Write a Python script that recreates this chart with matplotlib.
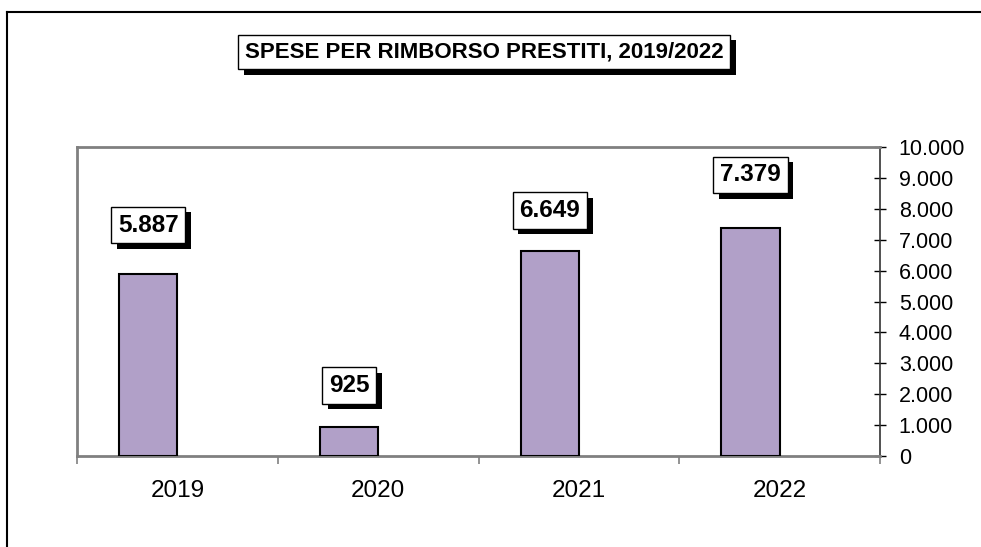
import matplotlib
matplotlib.use("Agg")
import matplotlib.pyplot as plt
import matplotlib.patheffects as pe
from matplotlib.lines import Line2D
from matplotlib.ticker import FuncFormatter

plt.rcParams["font.family"] = ["Liberation Sans", "DejaVu Sans"]

years = ["2019", "2020", "2021", "2022"]
spese = [5887, 925, 6649, 7379]
value_labels = ["5.887", "925", "6.649", "7.379"]
y_ticks = list(range(0, 10001, 1000))
title = "SPESE PER RIMBORSO PRESTITI, 2019/2022"

# label offsets above the bar top, in pixels (manual placement in the original)
label_offsets = [49, 42, 40, 53]

GRAY = "#808080"
BAR = "#B1A0C8"


def _thousands(v, _pos):
    return f"{int(v):,}".replace(",", ".")


def _shadow_box(txt):
    txt.get_bbox_patch().set_path_effects(
        [pe.SimplePatchShadow(offset=(4, -4), shadow_rgbFace="black", alpha=1.0), pe.Normal()]
    )


fig = plt.figure(figsize=(9.81, 5.47), dpi=100)
ax = fig.add_axes([77 / 981, 1 - 456 / 547, (880 - 77) / 981, (456 - 147) / 547])

centers = [i + 0.355 for i in range(len(years))]
ax.bar(centers, spese, width=0.29, color=BAR, edgecolor="black", linewidth=1.5, zorder=3)

ax.set_xlim(0, len(years))
ax.set_ylim(0, 10000)

ax.set_xticks(range(len(years) + 1))
ax.set_xticklabels([])
ax.set_xticks([i + 0.5 for i in range(len(years))], minor=True)
ax.set_xticklabels(years, minor=True, fontsize=17.5)
ax.tick_params(axis="x", which="major", direction="out", length=6, width=1.2, color=GRAY)
ax.tick_params(axis="x", which="minor", length=0, pad=17)

ax.yaxis.tick_right()
ax.set_yticks(y_ticks)
ax.yaxis.set_major_formatter(FuncFormatter(_thousands))
ax.tick_params(axis="y", direction="inout", length=9, width=1, color="black", labelsize=15.5, pad=9)

for side in ["top", "left", "bottom"]:
    ax.spines[side].set_color(GRAY)
    ax.spines[side].set_linewidth(2)
ax.spines["right"].set_color("#333333")
ax.spines["right"].set_linewidth(1.2)

for c, v, lab, off in zip(centers, spese, value_labels, label_offsets):
    t = ax.annotate(lab, (c, v), xytext=(0, off), textcoords="offset pixels",
                    ha="center", va="center", fontsize=17.5, fontweight="bold", zorder=5,
                    bbox=dict(boxstyle="square,pad=0.28", fc="white", ec="black", lw=1))
    _shadow_box(t)

tt = fig.text(484 / 981, 1 - 52 / 547, title, ha="center", va="center",
              fontsize=16, fontweight="bold",
              bbox=dict(boxstyle="square,pad=0.3", fc="white", ec="black", lw=1))
_shadow_box(tt)

# outer chart border (left and top edges visible)
fig.add_artist(Line2D([7 / 981, 7 / 981], [0, 1 - 12 / 547], color="black", lw=1.5))
fig.add_artist(Line2D([7 / 981, 1], [1 - 12 / 547, 1 - 12 / 547], color="black", lw=1.5))

fig.savefig("out.png", dpi=100)
